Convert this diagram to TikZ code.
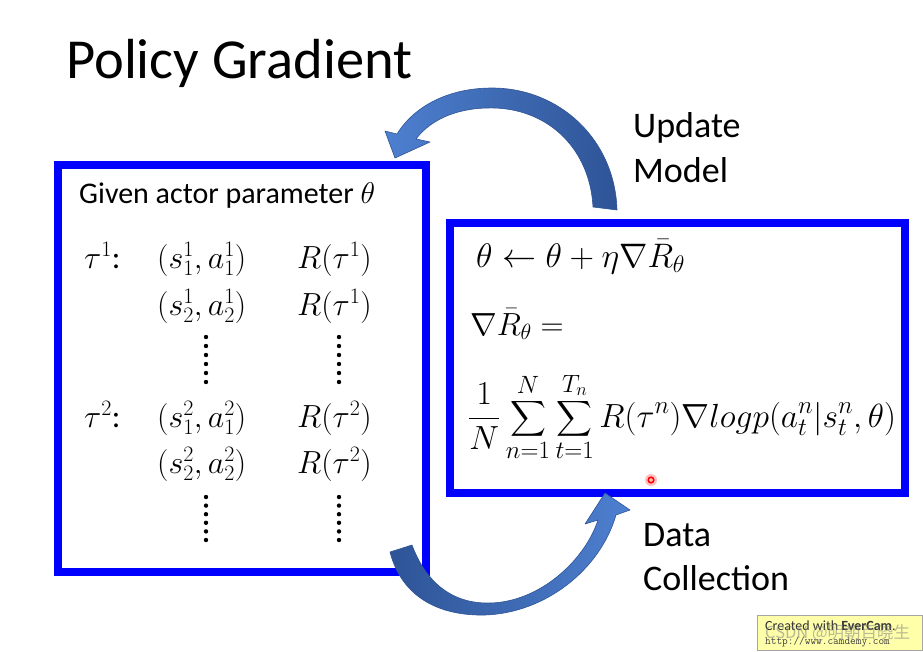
\RequirePackage{fix-cm}
\documentclass[tikz,border=0pt]{standalone}
\usepackage{amsmath}
\usepackage{fontspec}
\setmainfont{Carlito}
\newfontfamily\cjkfont{Noto Sans CJK SC}
\DeclareMathSizes{32}{32}{22}{16}
\DeclareMathSizes{34}{34}{24}{18}
\DeclareMathSizes{33.5}{33.5}{25}{18}
\definecolor{boxblue}{RGB}{0,0,255}
\definecolor{arrdark}{RGB}{46,84,150}
\definecolor{arrlight}{RGB}{78,128,208}
\definecolor{evyellow}{RGB}{255,255,170}
\tikzset{
  frame/.style={draw=boxblue, line width=8pt, inner sep=0pt, anchor=north west},
  bigarrow/.style={draw=arrdark, line width=0.6pt, line join=round},
  titletext/.style={anchor=base west, inner sep=0pt, font=\fontsize{56.5}{60}\selectfont},
  lbl/.style={anchor=base west, inner sep=0pt, font=\fontsize{36}{42}\selectfont},
  bodytext/.style={anchor=base west, inner sep=0pt, font=\fontsize{30}{36}\selectfont},
  mth/.style={anchor=base west, inner sep=0pt, font=\fontsize{32}{36}\selectfont},
  dotcol/.style={fill=black}
}
\begin{document}
\begin{tikzpicture}[x=1pt,y=-1pt]
\useasboundingbox[fill=white] (0,0) rectangle (923,651);

% title
\node[titletext] (title) at (66,78) {Policy Gradient};

% boxes
\node[frame, minimum width=368pt, minimum height=407pt] (left) at (54,161) {};
\node[frame, minimum width=455pt, minimum height=270pt] (right) at (446,219) {};

% left box content
\node[bodytext] (given) at (79,203) {Given actor parameter $\theta$};
\node[mth] (t1) at (84,268) {$\tau^1$:};
\node[mth] (p11) at (157,268) {$(s_1^1,a_1^1)$};
\node[mth] (r11) at (297,268) {$R(\tau^1)$};
\node[mth] (p12) at (157,315) {$(s_2^1,a_2^1)$};
\node[mth] (r12) at (297,315) {$R(\tau^1)$};
\node[mth] (t2) at (84,427) {$\tau^2$:};
\node[mth] (p21) at (157,427) {$(s_1^2,a_1^2)$};
\node[mth] (r21) at (297,427) {$R(\tau^2)$};
\node[mth] (p22) at (157,473) {$(s_2^2,a_2^2)$};
\node[mth] (r22) at (297,473) {$R(\tau^2)$};
\foreach \i in {0,...,5}{
  \fill[dotcol] (206,337+9*\i) circle (2.2);
  \fill[dotcol] (339,337+9*\i) circle (2.2);
  \fill[dotcol] (206,497+8.6*\i) circle (2.2);
  \fill[dotcol] (339,497+8.6*\i) circle (2.2);
}

% right box content
\node[mth, font=\fontsize{34}{38}\selectfont] (upd) at (476,267) {$\theta \leftarrow \theta + \eta\nabla\bar{R}_\theta$};
\node[mth] (grad) at (470,335) {$\nabla\bar{R}_\theta =$};
\node[mth, font=\fontsize{33.5}{38}\selectfont] (sum) at (468,427) {$\displaystyle \frac{1}{N}\sum_{n=1}^{N}\sum_{t=1}^{T_n} R(\tau^n)\nabla logp(a_t^n|s_t^n,\theta)$};

% labels
\node[lbl] (upd1) at (633,137) {Update};
\node[lbl] (upd2) at (633,182) {Model};
\node[lbl] (dat1) at (643,546) {Data};
\node[lbl] (dat2) at (643,590) {Collection};

% top curved arrow (update model)
\shade[bigarrow, left color=arrlight, right color=arrdark]
  (617,210) .. controls (615,140) and (560,88) .. (492,88)
  .. controls (450,88) and (415,105) .. (397,134)
  -- (385,131) -- (395,158) -- (430,142) -- (416,139)
  .. controls (432,118) and (460,107) .. (495,108)
  .. controls (550,110) and (590,150) .. (593,207) -- cycle;

% bottom curved arrow (data collection)
\shade[bigarrow, left color=arrdark, right color=arrlight]
  (390,552) .. controls (402,598) and (440,616) .. (485,615)
  .. controls (545,613) and (600,570) .. (616,515)
  -- (630,510) -- (605,493) -- (585,524) -- (598,520)
  .. controls (585,560) and (540,602) .. (490,603)
  .. controls (450,604) and (425,580) .. (412,545) -- cycle;

% cursor mark
\fill[red!25] (651,480) circle (6);
\draw[red, line width=1.5pt] (651,480) circle (2.8);

% recorder watermark
\node[draw=gray!70, fill=evyellow, line width=0.6pt, minimum width=165pt, minimum height=35pt, anchor=north west, inner sep=0pt] (ever) at (757,615) {};
\node[anchor=base west, inner sep=0pt, font=\fontsize{14}{16}\selectfont, text=black!80] (ever1) at (765,630) {Created with \textbf{EverCam}.};
\node[anchor=base west, inner sep=0pt, font=\ttfamily\fontsize{11}{13}\selectfont, text=black!75] (ever2) at (765,644) {http://www.camdemy.com};
\node[anchor=west, inner sep=0pt, font=\cjkfont\fontsize{16.5}{18}\selectfont, text=gray, opacity=0.55] (csdn) at (765,633) {CSDN @明朝百晓生};
\end{tikzpicture}
\end{document}
